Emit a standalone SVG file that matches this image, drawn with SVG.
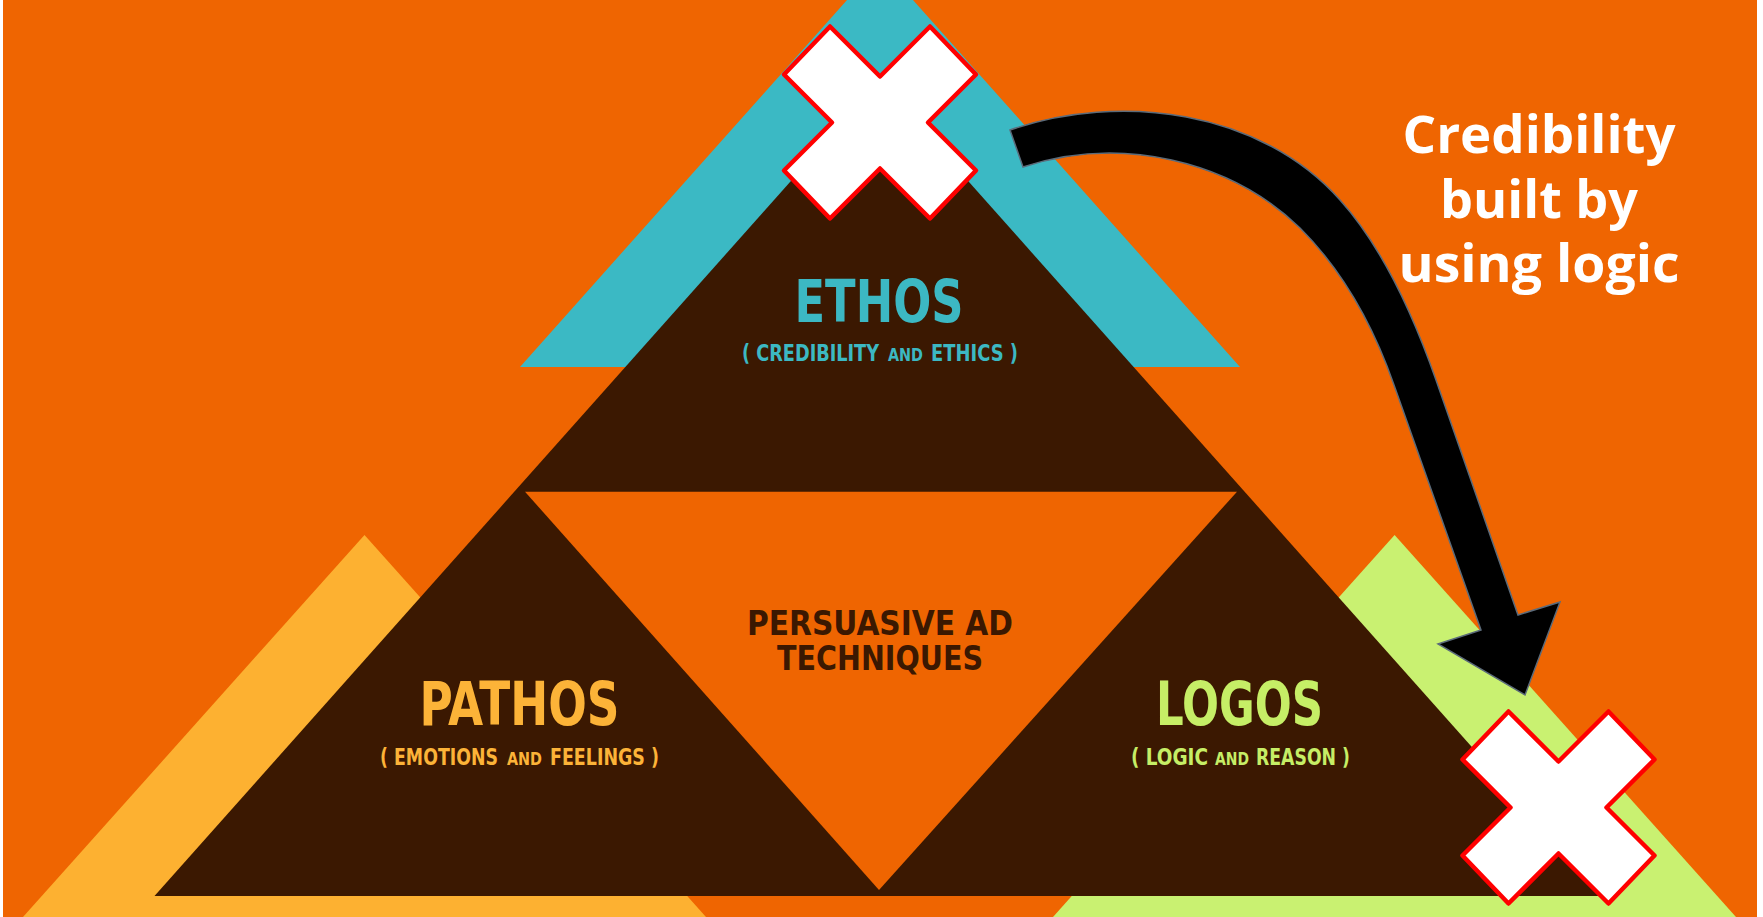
<svg xmlns="http://www.w3.org/2000/svg" width="1763" height="917" viewBox="0 0 1763 917">
<style>
.lbl{font-family:"DejaVu Sans Condensed","DejaVu Sans",sans-serif;font-weight:bold;text-anchor:middle}
.sub{font-family:"DejaVu Sans Condensed","DejaVu Sans",sans-serif;font-weight:bold;text-anchor:start;font-size:23px}
.sc{font-size:18.5px}
.xm{fill:#ffffff;stroke:#ff0000;stroke-width:4.5;stroke-linejoin:round}
.note{font-family:"Open Sans","Noto Sans",sans-serif;font-weight:700;fill:#ffffff;text-anchor:middle;font-size:52px}
.arrow{fill:#000000;stroke:#5b6b7a;stroke-width:1.5;stroke-linejoin:miter}
.teal{fill:#3CB8C3}.yel{fill:#FCB338}.grn{fill:#C6EE66}
</style>
<defs>
<path id="xshape" d="M-50,-96 L0,-46 L50,-96 L96,-48 L48,0 L96,48 L50,96 L0,46 L-50,96 L-96,48 L-48,0 L-96,-48 Z"/>
</defs>
<rect width="1763" height="917" fill="#ffffff"/>
<g id="background">
<rect x="3" y="0" width="1754" height="917" fill="#EF6501"/>
<polygon points="364.5,535 706,917 23,917" fill="#FDB131"/>
<polygon points="1394.6,535 1736,917 1053,917" fill="#C9F171"/>
<polygon points="880,-37 1240,367 520,367" fill="#3BB9C4"/>
<polygon points="879.5,81.5 1604.5,896 154.5,896" fill="#3B1801"/>
<polygon points="525,491.7 1237,491.7 879,890" fill="#EF6501"/>
</g>
<g id="ethos">
<text class="lbl teal" x="879" y="322" font-size="58" textLength="169" lengthAdjust="spacingAndGlyphs">ETHOS</text>
<text class="sub teal" x="742" y="361" textLength="137" lengthAdjust="spacingAndGlyphs">( CREDIBILITY</text>
<text class="sub sc teal" x="888" y="361" textLength="35" lengthAdjust="spacingAndGlyphs">AND</text>
<text class="sub teal" x="931" y="361" textLength="87" lengthAdjust="spacingAndGlyphs">ETHICS )</text>
</g>
<g id="pathos">
<text class="lbl yel" x="519.5" y="725" font-size="60" textLength="200" lengthAdjust="spacingAndGlyphs">PATHOS</text>
<text class="sub yel" x="380" y="765" textLength="118" lengthAdjust="spacingAndGlyphs">( EMOTIONS</text>
<text class="sub sc yel" x="507" y="765" textLength="35" lengthAdjust="spacingAndGlyphs">AND</text>
<text class="sub yel" x="550" y="765" textLength="109" lengthAdjust="spacingAndGlyphs">FEELINGS )</text>
</g>
<g id="logos">
<text class="lbl grn" x="1239.5" y="725" font-size="60" textLength="167" lengthAdjust="spacingAndGlyphs">LOGOS</text>
<text class="sub grn" x="1131" y="765" textLength="77" lengthAdjust="spacingAndGlyphs">( LOGIC</text>
<text class="sub sc grn" x="1215" y="765" textLength="34" lengthAdjust="spacingAndGlyphs">AND</text>
<text class="sub grn" x="1256" y="765" textLength="94" lengthAdjust="spacingAndGlyphs">REASON )</text>
</g>
<g id="center">
<text class="lbl" x="880" y="635" font-size="34" fill="#3B1801" textLength="266" lengthAdjust="spacingAndGlyphs">PERSUASIVE AD</text>
<text class="lbl" x="880" y="670" font-size="34" fill="#3B1801" textLength="206" lengthAdjust="spacingAndGlyphs">TECHNIQUES</text>
</g>
<g id="note">
<text class="note" x="1539" y="153" textLength="273" lengthAdjust="spacingAndGlyphs">Credibility</text>
<text class="note" x="1539" y="218" textLength="198" lengthAdjust="spacingAndGlyphs">built by</text>
<text class="note" x="1539" y="282" textLength="281" lengthAdjust="spacingAndGlyphs">using logic</text>
</g>
<g id="connectors">
<path class="arrow" d="M1010,130 C1120,92 1260,110 1340,200 C1385,250 1415,320 1436,380 L1518,615 L1560,602 L1525,695 L1438,644 L1481,630 L1394,385 C1372,322 1342,270 1300,228 C1230,160 1120,135 1023,167 Z"/>
</g>
<g id="x-top"><use href="#xshape" class="xm" transform="translate(880,122.5)"/></g>
<g id="x-bottom"><use href="#xshape" class="xm" transform="translate(1558.5,807.5)"/></g>
</svg>
